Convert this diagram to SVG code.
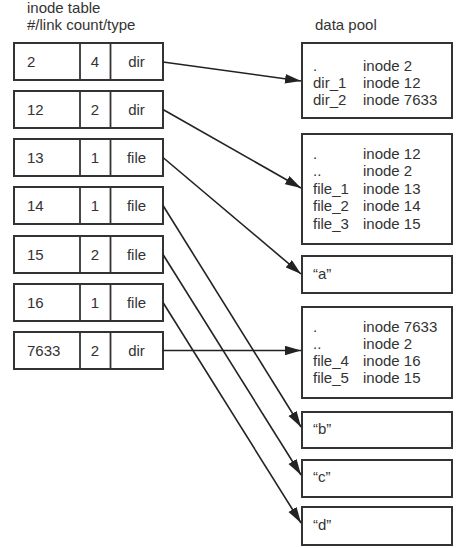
<svg xmlns="http://www.w3.org/2000/svg" width="459" height="548" viewBox="0 0 459 548">
<defs>
<style>
text{font-family:"Liberation Sans",Arial,sans-serif;font-size:15px;fill:#333}
.c{text-anchor:middle}
.box{fill:#fff;stroke:#333;stroke-width:2}
.div{stroke:#333;stroke-width:1.8}
.ln{stroke:#222;stroke-width:1.6;fill:none;marker-end:url(#ah)}
</style>
<marker id="ah" markerUnits="userSpaceOnUse" markerWidth="17" markerHeight="10" refX="16" refY="4.75" orient="auto">
<path d="M0,0 L16,4.75 L0,9.5 z" fill="#222"/>
</marker>
</defs>
<rect width="459" height="548" fill="#fff"/>
<g id="headers">
<text x="27" y="13">inode table</text>
<text x="27" y="30">#/link count/type</text>
<text x="315" y="30">data pool</text>
</g>
<g id="inode-2">
<rect class="box" x="14" y="43" width="149" height="37"/>
<line class="div" x1="80" y1="43" x2="80" y2="80"/><line class="div" x1="110.5" y1="43" x2="110.5" y2="80"/>
<text x="27" y="67">2</text><text class="c" x="95" y="67">4</text><text class="c" x="136.5" y="67">dir</text>
</g>
<g id="inode-12">
<rect class="box" x="14" y="91" width="149" height="37"/>
<line class="div" x1="80" y1="91" x2="80" y2="128"/><line class="div" x1="110.5" y1="91" x2="110.5" y2="128"/>
<text x="27" y="115">12</text><text class="c" x="95" y="115">2</text><text class="c" x="136.5" y="115">dir</text>
</g>
<g id="inode-13">
<rect class="box" x="14" y="139" width="149" height="37"/>
<line class="div" x1="80" y1="139" x2="80" y2="176"/><line class="div" x1="110.5" y1="139" x2="110.5" y2="176"/>
<text x="27" y="163">13</text><text class="c" x="95" y="163">1</text><text class="c" x="136.5" y="163">file</text>
</g>
<g id="inode-14">
<rect class="box" x="14" y="187" width="149" height="37"/>
<line class="div" x1="80" y1="187" x2="80" y2="224"/><line class="div" x1="110.5" y1="187" x2="110.5" y2="224"/>
<text x="27" y="211">14</text><text class="c" x="95" y="211">1</text><text class="c" x="136.5" y="211">file</text>
</g>
<g id="inode-15">
<rect class="box" x="14" y="236" width="149" height="37"/>
<line class="div" x1="80" y1="236" x2="80" y2="273"/><line class="div" x1="110.5" y1="236" x2="110.5" y2="273"/>
<text x="27" y="260">15</text><text class="c" x="95" y="260">2</text><text class="c" x="136.5" y="260">file</text>
</g>
<g id="inode-16">
<rect class="box" x="14" y="284" width="149" height="37"/>
<line class="div" x1="80" y1="284" x2="80" y2="321"/><line class="div" x1="110.5" y1="284" x2="110.5" y2="321"/>
<text x="27" y="308">16</text><text class="c" x="95" y="308">1</text><text class="c" x="136.5" y="308">file</text>
</g>
<g id="inode-7633">
<rect class="box" x="14" y="332" width="149" height="37"/>
<line class="div" x1="80" y1="332" x2="80" y2="369"/><line class="div" x1="110.5" y1="332" x2="110.5" y2="369"/>
<text x="27" y="356">7633</text><text class="c" x="95" y="356">2</text><text class="c" x="136.5" y="356">dir</text>
</g>
<g id="data-dir2">
<rect class="box" x="302" y="43" width="150" height="75"/>
<text x="313" y="71">.</text><text x="363" y="71">inode 2</text>
<text x="313" y="88">dir_1</text><text x="363" y="88">inode 12</text>
<text x="313" y="105">dir_2</text><text x="363" y="105">inode 7633</text>
</g>
<g id="data-dir12">
<rect class="box" x="302" y="134" width="150" height="110"/>
<text x="313" y="159">.</text><text x="363" y="159">inode 12</text>
<text x="313" y="176">..</text><text x="363" y="176">inode 2</text>
<text x="313" y="193.5">file_1</text><text x="363" y="193.5">inode 13</text>
<text x="313" y="211">file_2</text><text x="363" y="211">inode 14</text>
<text x="313" y="228.5">file_3</text><text x="363" y="228.5">inode 15</text>
</g>
<g id="data-a">
<rect class="box" x="302" y="256" width="150" height="37"/>
<text x="313" y="279">“a”</text>
</g>
<g id="data-dir7633">
<rect class="box" x="302" y="307" width="150" height="91"/>
<text x="313" y="332">.</text><text x="363" y="332">inode 7633</text>
<text x="313" y="349">..</text><text x="363" y="349">inode 2</text>
<text x="313" y="366">file_4</text><text x="363" y="366">inode 16</text>
<text x="313" y="383">file_5</text><text x="363" y="383">inode 15</text>
</g>
<g id="data-b">
<rect class="box" x="302" y="412" width="150" height="36"/>
<text x="313" y="434">“b”</text>
</g>
<g id="data-c">
<rect class="box" x="302" y="460" width="150" height="37"/>
<text x="313" y="482">“c”</text>
</g>
<g id="data-d">
<rect class="box" x="302" y="507" width="150" height="38"/>
<text x="313" y="530">“d”</text>
</g>
<g id="connectors">
<line class="ln" x1="163" y1="62" x2="301" y2="81"/>
<line class="ln" x1="163" y1="109.5" x2="301" y2="188"/>
<line class="ln" x1="163" y1="157.5" x2="301" y2="274"/>
<line class="ln" x1="163" y1="205.5" x2="301" y2="427"/>
<line class="ln" x1="163" y1="254.5" x2="301" y2="475"/>
<line class="ln" x1="163" y1="302.5" x2="301" y2="523"/>
<line class="ln" x1="163" y1="350.5" x2="301" y2="350.5"/>
</g>
</svg>
